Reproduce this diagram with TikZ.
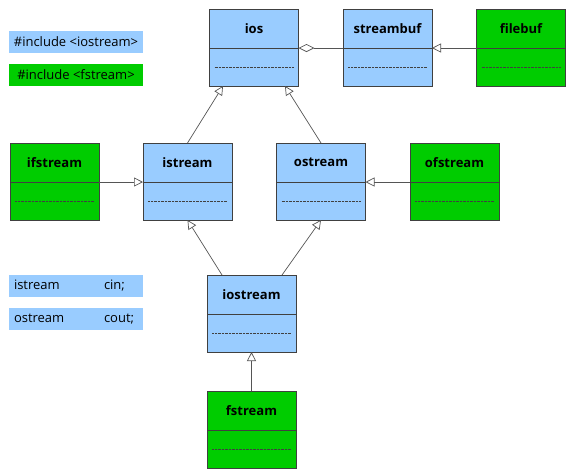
\documentclass[tikz,border=0pt]{standalone}
\usepackage{fontspec}
\setmainfont{Open Sans}
\usepackage{tikz}
\usetikzlibrary{arrows.meta,positioning,calc}
\definecolor{ioblue}{HTML}{99CCFF}
\definecolor{fgreen}{HTML}{00CC00}
\definecolor{edge}{HTML}{404040}
\definecolor{wire}{HTML}{555555}

\tikzset{
	head/.style={draw=edge, line width=1pt, minimum width=89pt, minimum height=39pt, inner sep=0pt, outer sep=0pt, font=\fontsize{13}{15}\selectfont\bfseries},
	body/.style={draw=edge, line width=1pt, minimum width=89pt, minimum height=38pt, inner sep=0pt, outer sep=0pt, below=0pt of #1},
	inherit/.style={draw=wire, line width=0.7pt, -{Triangle[open,length=9pt,width=9pt]}},
	aggr/.style={draw=wire, line width=0.7pt, {Diamond[open,length=16pt,width=8pt]}-},
	legend/.style={minimum width=134pt, minimum height=22pt, inner sep=0pt, font=\fontsize{13}{15}\selectfont},
}

\begin{document}
\begin{tikzpicture}[x=1pt,y=-1pt]
		\useasboundingbox (0,0) rectangle (572,475);
		
		% legend
		\node[legend, fill=ioblue] (incio) at (76,41.5) {\#include <iostream>};
		\node[legend, fill=fgreen] (incf) at (76,75) {\#include <fstream>};
		\node[legend, fill=ioblue, text width=124pt, inner xsep=5pt, align=left] (cin) at (76,286) {\makebox[90pt][l]{istream}cin;};
		\node[legend, fill=ioblue, text width=124pt, inner xsep=5pt, align=left] (cout) at (76,319) {\makebox[90pt][l]{ostream}cout;};
		
		% classes
		\node[head, fill=ioblue] (ios) at (254,28.5) {ios};
		\node[body=ios, fill=ioblue] (ios-b) {};
		\node[head, fill=ioblue] (streambuf) at (387.5,28.5) {streambuf};
		\node[body=streambuf, fill=ioblue] (streambuf-b) {};
		\node[head, fill=fgreen] (filebuf) at (521,28.5) {filebuf};
		\node[body=filebuf, fill=fgreen] (filebuf-b) {};
		
		\node[head, fill=fgreen] (ifstream) at (54.5,162.5) {ifstream};
		\node[body=ifstream, fill=fgreen] (ifstream-b) {};
		\node[head, fill=ioblue] (istream) at (187.5,162.5) {istream};
		\node[body=istream, fill=ioblue] (istream-b) {};
		\node[head, fill=ioblue] (ostream) at (321,162.5) {ostream};
		\node[body=ostream, fill=ioblue] (ostream-b) {};
		\node[head, fill=fgreen] (ofstream) at (454.5,162.5) {ofstream};
		\node[body=ofstream, fill=fgreen] (ofstream-b) {};
		
		\node[head, fill=ioblue] (iostream) at (251.5,294.5) {iostream};
		\node[body=iostream, fill=ioblue] (iostream-b) {};
		\node[head, fill=fgreen] (fstream) at (251.5,410.5) {fstream};
		\node[body=fstream, fill=fgreen] (fstream-b) {};
		
		\foreach \c in {ios,streambuf,filebuf,ifstream,istream,ostream,ofstream,iostream,fstream}
		\draw[edge, line width=0.6pt, dash pattern=on 0.7pt off 0.7pt] ([xshift=5pt]\c-b.west) -- ([xshift=-5pt]\c-b.east);
		
		% connectors
		\draw[aggr] (ios.south east) -- (streambuf.south west);
		\draw[inherit] (filebuf.south west) -- (streambuf.south east);
		\draw[inherit] (ifstream.south east) -- (istream.south west);
		\draw[inherit] (ofstream.south west) -- (ostream.south east);
		\draw[inherit] (istream.north) -- ([xshift=-31pt]ios-b.south);
		\draw[inherit] (ostream.north) -- ([xshift=31pt]ios-b.south);
		\draw[inherit] ([xshift=-29.5pt]iostream.north) -- (istream-b.south);
		\draw[inherit] ([xshift=30.5pt]iostream.north) -- (ostream-b.south);
		\draw[inherit] (fstream.north) -- (iostream-b.south);
		\end{tikzpicture}
\end{document}
